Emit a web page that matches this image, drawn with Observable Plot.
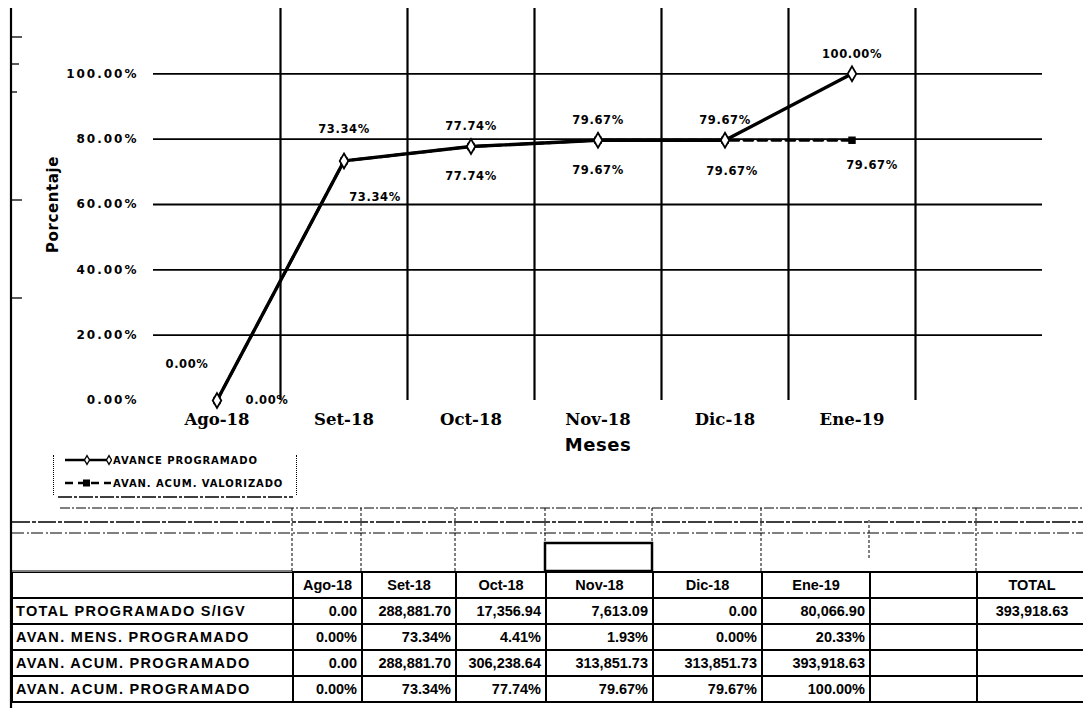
<!DOCTYPE html>
<html>
<head>
<meta charset="utf-8">
<script src="https://cdn.jsdelivr.net/npm/d3@7"></script>
<script src="https://cdn.jsdelivr.net/npm/@observablehq/plot@0.6"></script>
<style>
  html, body { margin: 0; padding: 0; background: #fff; }
  #page { position: relative; width: 1083px; height: 708px; overflow: hidden; background: #fff; font-family: "DejaVu Sans", sans-serif; color: #000; }
  #page > svg.plot { position: absolute; left: 0; top: 0; }
  #legend { position: absolute; left: 53px; top: 455px; width: 242px; height: 40px; border-left: 1px dotted #000; border-right: 1px dotted #000; }
  #legend .item { position: absolute; left: 0; height: 14px; display: flex; align-items: center; }
  #legend .item span { font-family: "DejaVu Sans", sans-serif; font-weight: bold; font-size: 10px; letter-spacing: 0.9px; white-space: nowrap; margin-left: 1px; }
  #tabla { position: absolute; left: 11px; top: 571px; border-collapse: collapse; table-layout: fixed; width: 1075px;
           font-family: "Liberation Sans", Arial, sans-serif; font-weight: bold; font-size: 14.5px; }
  #tabla td { border: 2px solid #000; height: 24px; padding: 0 4px; text-align: right; white-space: nowrap; overflow: hidden; }
  #tabla td.lab { text-align: left; letter-spacing: 1.3px; padding-left: 3px; }
  #tabla tr.hdr td { text-align: center; }
  #tabla tr.hdr td.lab { border-top: 1px solid #000; }
  #tabla td.tot { text-align: center; }
  #deco { position: absolute; left: 0; top: 0; pointer-events: none; }
</style>
</head>
<body>
<div id="page">
  <div id="legend"></div>
  <table id="tabla"></table>
</div>
<script>
// ---------- Data ----------
const meses = ["Ago-18", "Set-18", "Oct-18", "Nov-18", "Dic-18", "Ene-19"];
const avanceProgramado = [0.00, 73.34, 77.74, 79.67, 79.67, 100.00];
const avanAcumValorizado = [0.00, 73.34, 77.74, 79.67, 79.67, 79.67];
const yTicks = [0, 20, 40, 60, 80, 100];

const serieNombres = ["AVANCE PROGRAMADO", "AVAN. ACUM. VALORIZADO"];

const tablaColumnas = ["Ago-18", "Set-18", "Oct-18", "Nov-18", "Dic-18", "Ene-19", "", "TOTAL"];
const filaNombres = ["TOTAL PROGRAMADO S/IGV", "AVAN. MENS. PROGRAMADO", "AVAN. ACUM. PROGRAMADO", "AVAN. ACUM. PROGRAMADO"];
const totalProgramado = [0.00, 288881.70, 17356.94, 7613.09, 0.00, 80066.90];
const totalGeneral = 393918.63;
const avanMensProgramado = [0.00, 73.34, 4.41, 1.93, 0.00, 20.33];
const avanAcumMonto = [0.00, 288881.70, 306238.64, 313851.73, 313851.73, 393918.63];
const avanAcumPorcentaje = [0.00, 73.34, 77.74, 79.67, 79.67, 100.00];

// ---------- Chart ----------
const fmtPct = d => d.toFixed(2) + "%";
const fmtNum = d3.format(",.2f");
const data = meses.map((m, i) => ({i, mes: m, prog: avanceProgramado[i], val: avanAcumValorizado[i]}));

const lbl = {fontSize: 11.5, fontWeight: "bold", fill: "#000", fontFamily: "DejaVu Sans"};

const chart = Plot.plot({
  width: 1083,
  height: 500,
  marginTop: 8,
  marginBottom: 100,
  marginLeft: 153,
  marginRight: 41,
  style: {background: "transparent", color: "#000", fontFamily: "DejaVu Sans", overflow: "visible"},
  x: {domain: [-0.5, meses.length + 0.5], axis: null},
  y: {domain: [0, 120], axis: null},
  marks: [
    Plot.ruleY(yTicks.filter(d => d > 0), {stroke: "#000", strokeWidth: 1.8}),
    Plot.ruleX(meses.map((_, i) => i + 0.5), {y1: 0, y2: 120, stroke: "#000", strokeWidth: 2.2}),
    Plot.axisY(yTicks, {anchor: "left", tickSize: 0, tickPadding: 15, tickFormat: fmtPct,
      fontSize: 12, fontWeight: "bold", fontFamily: "DejaVu Sans", label: null}),
    Plot.axisX(meses.map((_, i) => i), {anchor: "bottom", tickSize: 0, tickPadding: 13, tickFormat: i => meses[i],
      fontSize: 16.5, fontWeight: "bold", fontFamily: "DejaVu Serif", label: null}),
    Plot.text(["Porcentaje"], {frameAnchor: "left", dx: -100, rotate: -90, textAnchor: "middle",
      fontSize: 15, fontWeight: "bold", fontFamily: "DejaVu Sans", fill: "#000"}),
    Plot.text(["Meses"], {frameAnchor: "bottom", dy: 50, textAnchor: "middle",
      fontSize: 18, fontWeight: "bold", fontFamily: "DejaVu Sans", fill: "#000"}),
    // series
    Plot.line(data, {x: "i", y: "val", stroke: "#000", strokeWidth: 2.8, strokeDasharray: "9,5"}),
    Plot.line(data, {x: "i", y: "prog", stroke: "#000", strokeWidth: 3.4}),
    Plot.dot(data, {x: "i", y: "val", symbol: "square", r: 4.2, fill: "#000"}),
    Plot.dot(data, {x: "i", y: "prog", symbol: "diamond", r: 4.5, fill: "#fff", stroke: "#000", strokeWidth: 1.8}),
    // labels: AVANCE PROGRAMADO (above)
    Plot.text(data, {filter: d => d.i === 0, x: "i", y: "prog", text: d => fmtPct(d.prog), dx: -30, dy: -36, ...lbl}),
    Plot.text(data, {filter: d => d.i === 1, x: "i", y: "prog", text: d => fmtPct(d.prog), dy: -32, ...lbl}),
    Plot.text(data, {filter: d => d.i >= 2, x: "i", y: "prog", text: d => fmtPct(d.prog), dy: -20, ...lbl}),
    // labels: AVAN. ACUM. VALORIZADO (below)
    Plot.text(data, {filter: d => d.i === 0, x: "i", y: "val", text: d => fmtPct(d.val), dx: 50, dy: 0, ...lbl}),
    Plot.text(data, {filter: d => d.i === 1, x: "i", y: "val", text: d => fmtPct(d.val), dx: 31, dy: 36, ...lbl}),
    Plot.text(data, {filter: d => d.i === 2 || d.i === 3, x: "i", y: "val", text: d => fmtPct(d.val), dy: 30, ...lbl}),
    Plot.text(data, {filter: d => d.i === 4, x: "i", y: "val", text: d => fmtPct(d.val), dx: 7, dy: 31, ...lbl}),
    Plot.text(data, {filter: d => d.i === 5, x: "i", y: "val", text: d => fmtPct(d.val), dx: 20, dy: 25, ...lbl})
  ]
});
chart.classList.add("plot");
const page = document.getElementById("page");
page.insertBefore(chart, page.firstChild);
d3.select(chart).selectAll('g[aria-label="y-axis tick label"] text').attr("letter-spacing", "2px");
d3.select(chart).selectAll('g[aria-label="text"] text').attr("letter-spacing", "0.6px");

// ---------- Legend ----------
const legend = d3.select("#legend");
serieNombres.forEach((name, k) => {
  const item = legend.append("div").attr("class", "item").style("top", (k === 0 ? -2 : 21) + "px").style("left", "10px");
  const sw = item.append("svg").attr("width", 48).attr("height", 14);
  sw.append("line").attr("x1", 1).attr("x2", 47).attr("y1", 7).attr("y2", 7)
    .attr("stroke", "#000").attr("stroke-width", 2.4).attr("stroke-dasharray", k === 0 ? null : "8,5");
  if (k === 0) {
    [23, 45].forEach(cx => sw.append("path").attr("d", d3.symbol(d3.symbolDiamond, 22)()).attr("transform", `translate(${cx},7)`)
      .attr("fill", "#fff").attr("stroke", "#000").attr("stroke-width", 1.3));
  } else {
    sw.append("rect").attr("x", 19).attr("y", 3.5).attr("width", 7).attr("height", 7).attr("fill", "#000");
  }
  item.append("span").text(name);
});

// ---------- Table ----------
const tabla = d3.select("#tabla");
const colW = [281, 69, 94, 90, 107, 109, 108, 107, 110];
const cg = tabla.append("colgroup");
colW.forEach(w => cg.append("col").style("width", w + "px"));
const hdr = tabla.append("tr").attr("class", "hdr");
hdr.append("td").attr("class", "lab").text("");
tablaColumnas.forEach(c => hdr.append("td").text(c));
const filas = [
  [...totalProgramado.map(fmtNum), "", fmtNum(totalGeneral)],
  [...avanMensProgramado.map(fmtPct), "", ""],
  [...avanAcumMonto.map(fmtNum), "", ""],
  [...avanAcumPorcentaje.map(fmtPct), "", ""]
];
filas.forEach((vals, r) => {
  const tr = tabla.append("tr");
  tr.append("td").attr("class", "lab").text(filaNombres[r]);
  vals.forEach((v, c) => tr.append("td").attr("class", c === vals.length - 1 ? "tot" : null).text(v));
});

// ---------- Scan decorations (page border, dashed guide lines) ----------
const deco = d3.select("#page").append("svg").attr("id", "deco").attr("width", 1083).attr("height", 708);
deco.append("line").attr("x1", 11).attr("x2", 11).attr("y1", 8).attr("y2", 708).attr("stroke", "#000").attr("stroke-width", 2.2);
[[37, 22], [64, 19], [92, 17], [200, 22], [298, 22]].forEach(([y, x2]) =>
  deco.append("line").attr("x1", 12).attr("x2", x2).attr("y1", y).attr("y2", y).attr("stroke", "#000").attr("stroke-width", 1.3));
const hl = (x1, x2, y, w, dash) => deco.append("line").attr("x1", x1).attr("x2", x2).attr("y1", y).attr("y2", y)
  .attr("stroke", "#000").attr("stroke-width", w).attr("stroke-dasharray", dash);
hl(58, 293, 497, 1.6, "14,2,3,2");
hl(60, 1083, 508, 1, "10,2,2,2");
hl(12, 1083, 522, 1.3, "18,2,4,2");
hl(12, 1083, 533, 1, "12,3,2,2");
hl(12, 292, 571, 1.2, null);
const vl = (x, y1, y2) => deco.append("line").attr("x1", x).attr("x2", x).attr("y1", y1).attr("y2", y2)
  .attr("stroke", "#000").attr("stroke-width", 1).attr("stroke-dasharray", "3,2");
[[292, 508, 571], [361, 508, 571], [455, 508, 571], [545, 508, 543], [652, 508, 543], [761, 508, 571], [869, 520, 560], [976, 508, 571]]
  .forEach(([x, a, b]) => vl(x, a, b));
deco.append("rect").attr("x", 545).attr("y", 543).attr("width", 107).attr("height", 28)
  .attr("fill", "none").attr("stroke", "#000").attr("stroke-width", 2.5);
</script>
</body>
</html>
